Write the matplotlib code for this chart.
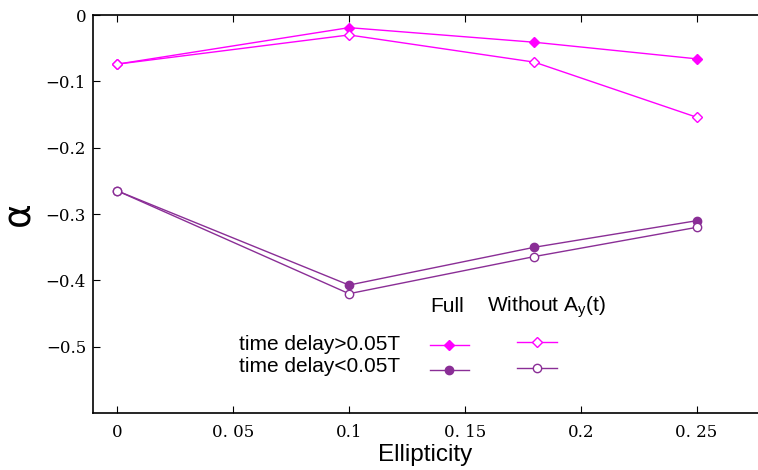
import matplotlib
matplotlib.use("Agg")
import matplotlib.pyplot as plt

# --- Data ---
ellipticity = [0.0, 0.1, 0.18, 0.25]
full_long = [-0.074, -0.019, -0.041, -0.066]      # time delay > 0.05T, full
noay_long = [-0.074, -0.030, -0.071, -0.154]      # time delay > 0.05T, without Ay
full_short = [-0.265, -0.407, -0.350, -0.310]     # time delay < 0.05T, full
noay_short = [-0.265, -0.420, -0.364, -0.320]     # time delay < 0.05T, without Ay

xticks = [0, 0.05, 0.1, 0.15, 0.2, 0.25]
xtick_labels = ["0", "0. 05", "0.1", "0. 15", "0.2", "0. 25"]
yticks = [0, -0.1, -0.2, -0.3, -0.4, -0.5]
ytick_labels = ["0", "\u22120.1", "\u22120.2", "\u22120.3", "\u22120.4", "\u22120.5"]

magenta = "#ff00ff"
purple = "#8a2e96"

fig = plt.figure(figsize=(7.58, 4.70), dpi=100)
ax = fig.add_axes([0.1227, 0.121, 0.8773, 0.847])

ax.plot(ellipticity, full_long, color=magenta, lw=1.0, marker="D", ms=5.5,
        mfc=magenta, mec=magenta, zorder=3)
ax.plot(ellipticity, noay_long, color=magenta, lw=1.0, marker="D", ms=5.5,
        mfc="white", mec=magenta, zorder=4)
ax.plot(ellipticity, full_short, color=purple, lw=1.0, marker="o", ms=6,
        mfc=purple, mec=purple, zorder=3)
ax.plot(ellipticity, noay_short, color=purple, lw=1.0, marker="o", ms=6,
        mfc="white", mec=purple, zorder=4)

ax.set_xlim(-0.0105, 0.2765)
ax.set_ylim(-0.6, 0)
ax.set_xticks(xticks)
ax.set_xticklabels(xtick_labels, fontfamily="DejaVu Serif", fontsize=12)
ax.set_yticks(yticks)
ax.set_yticklabels(ytick_labels, fontfamily="DejaVu Serif", fontsize=12)
ax.tick_params(axis="both", direction="in", length=5, width=0.8)
ax.tick_params(axis="x", top=True, pad=8)
ax.tick_params(axis="y", pad=5)
ax.spines["right"].set_visible(False)
for s in ["left", "top", "bottom"]:
    ax.spines[s].set_linewidth(1.2)

ax.set_xlabel("Ellipticity", fontfamily="Liberation Sans", fontsize=17.5, labelpad=2)
ax.set_ylabel("\u03b1", fontfamily="DejaVu Sans", fontsize=27, labelpad=6)

# --- Hand-built legend ---
tf = fig.transFigure
W, H = 758.0, 470.0
def fx(px):
    return px / W
def fy(py):
    return 1 - py / H

fig.text(fx(430), fy(306), "Full", fontfamily="Liberation Sans", fontsize=15,
         va="center", ha="left")
fig.text(fx(487), fy(307), "Without A$_\\mathregular{y}$(t)", fontfamily="Liberation Sans",
         fontsize=15, va="center", ha="left")
fig.text(fx(400), fy(344), "time delay>0.05T", fontfamily="Liberation Sans",
         fontsize=15, va="center", ha="right")
fig.text(fx(400), fy(367), "time delay<0.05T", fontfamily="Liberation Sans",
         fontsize=15, va="center", ha="right")

samples = [
    (430, 469, 345, magenta, "D", magenta),
    (517, 557, 342, magenta, "D", "white"),
    (430, 469, 370, purple, "o", purple),
    (517, 557, 368, purple, "o", "white"),
]
for x0, x1, yy, c, m, fc in samples:
    fig.lines.append(plt.Line2D([fx(x0), fx(x1)], [fy(yy), fy(yy)], transform=tf,
                                color=c, lw=1.0))
    fig.lines.append(plt.Line2D([fx((x0 + x1) / 2)], [fy(yy)], transform=tf,
                                marker=m, ms=5.5 if m == "D" else 6, mfc=fc, mec=c,
                                color=c, lw=0))

fig.savefig("out.png", dpi=100)
